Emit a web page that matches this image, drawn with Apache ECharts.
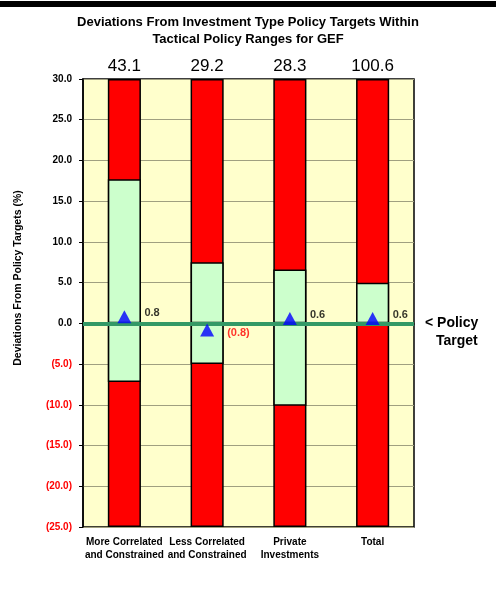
<!DOCTYPE html>
<html><head><meta charset="utf-8">
<script src="https://cdn.jsdelivr.net/npm/echarts@6/dist/echarts.min.js"></script>
<style>html,body{margin:0;padding:0;background:#fff}#c{width:496px;height:594px}</style>
</head><body><div id="c"></div>
<script>
var categories = ['More Correlated\nand Constrained', 'Less Correlated\nand Constrained', 'Private\nInvestments', 'Total'];
var topLabels = ['43.1', '29.2', '28.3', '100.6'];
var rangeHigh = [17.7, 7.5, 6.6, 5.0];
var rangeLow = [-7.2, -5.0, -10.1, 0];
var deviation = [0.8, -0.8, 0.6, 0.6];
var axisMin = -25, axisMax = 30, axisStep = 5;

var FONT = '"Liberation Sans", Arial, sans-serif';
var chart = echarts.init(document.getElementById('c'));
function fmt(v){ return v < 0 ? '(' + Math.abs(v).toFixed(1) + ')' : v.toFixed(1); }
var barBase = { type: 'bar', barWidth: '40%', barGap: '-100%' };
chart.setOption({
  animation: false,
  title: { text: 'Deviations From Investment Type Policy Targets Within\nTactical Policy Ranges for GEF', left: 'center', top: 9,
    textStyle: { fontFamily: FONT, fontSize: 13, fontWeight: 'bold', color: '#000', lineHeight: 17 } },
  grid: { left: 83, right: 82, top: 79, bottom: 67, show: true, backgroundColor: '#ffffcc', borderColor: '#000', borderWidth: 1.5 },
  xAxis: { type: 'category', data: categories,
    axisLine: { lineStyle: { color: '#000', width: 1.5 } }, axisTick: { show: false },
    axisLabel: { fontFamily: FONT, fontSize: 10, fontWeight: 'bold', color: '#000', margin: 9, lineHeight: 13, interval: 0 } },
  yAxis: { type: 'value', min: axisMin, max: axisMax, interval: axisStep,
    axisLine: { show: true, lineStyle: { color: '#000', width: 1.5 } },
    axisTick: { show: true, length: 4, lineStyle: { color: '#000' } },
    splitLine: { lineStyle: { color: '#a0a080', width: 1 } },
    axisLabel: { fontFamily: FONT, fontSize: 10, fontWeight: 'bold', margin: 11,
      formatter: fmt,
      color: function(v){ return Number(v) < 0 ? '#ff0000' : '#000'; } } },
  series: [
    Object.assign({}, barBase, { name: 'redUp', data: categories.map(function(){ return axisMax; }), itemStyle: { color: '#ff0000', borderColor: '#000', borderWidth: 1.5 },
      label: { show: true, position: 'top', distance: 4, fontFamily: FONT, fontSize: 17, color: '#000',
        formatter: function(p){ return topLabels[p.dataIndex]; } } }),
    Object.assign({}, barBase, { name: 'redDown', data: categories.map(function(){ return axisMin; }), itemStyle: { color: '#ff0000', borderColor: '#000', borderWidth: 1.5 } }),
    Object.assign({}, barBase, { name: 'greenUp', data: rangeHigh, itemStyle: { color: '#ccffcc', borderColor: '#000', borderWidth: 1.5 } }),
    Object.assign({}, barBase, { name: 'greenDown', data: rangeLow, itemStyle: { color: '#ccffcc', borderColor: '#000', borderWidth: 1.5 },
      markLine: { silent: true, symbol: 'none', label: { show: false }, lineStyle: { color: '#339966', width: 4, type: 'solid' },
        data: [{ yAxis: 0 }], z: 5 } }),
    { type: 'scatter', name: 'dev', symbol: 'triangle', symbolSize: [14, 13], z: 10,
      itemStyle: { color: '#0000ff' },
      label: { show: true, position: 'right', distance: 13, fontFamily: FONT, fontSize: 11, fontWeight: 'bold',
        formatter: function(p){ return fmt(p.value); } },
      data: deviation.map(function(v){
        return { value: v, label: { color: v < 0 ? '#ff0000' : '#000', offset: [0, v < 0 ? 3 : -4] } };
      }) }
  ],
  graphic: [
    { type: 'rect', shape: { x: 0, y: 1, width: 496, height: 6 }, style: { fill: '#000' } },
    { type: 'text', x: 18, y: 278, rotation: Math.PI / 2, style: { text: 'Deviations From Policy Targets (%)', fontFamily: FONT, fontSize: 10.5, fontWeight: 'bold', fill: '#000', align: 'center', verticalAlign: 'middle' } },
    { type: 'text', left: 425, top: 316, style: { text: '< Policy', fontFamily: FONT, fontSize: 14, fontWeight: 'bold', fill: '#000' } },
    { type: 'text', left: 436, top: 334, style: { text: 'Target', fontFamily: FONT, fontSize: 14, fontWeight: 'bold', fill: '#000' } }
  ]
});
</script></body></html>
